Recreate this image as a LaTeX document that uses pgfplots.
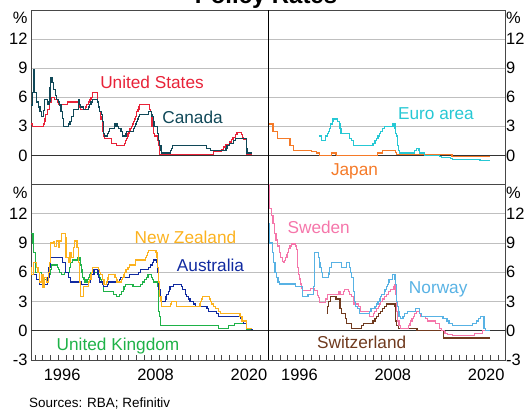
\documentclass[border=0pt]{standalone}
\usepackage{fontspec}
\setmainfont{Liberation Sans}
\usepackage{pgfplots}
\pgfplotsset{compat=1.18}

\definecolor{cUS}{RGB}{232,34,56}
\definecolor{cCA}{RGB}{16,72,88}
\definecolor{cEU}{RGB}{38,200,212}
\definecolor{cJP}{RGB}{245,122,40}
\definecolor{cNZ}{RGB}{252,178,30}
\definecolor{cAU}{RGB}{16,42,160}
\definecolor{cUK}{RGB}{30,178,72}
\definecolor{cSE}{RGB}{245,118,170}
\definecolor{cNO}{RGB}{88,178,228}
\definecolor{cCH}{RGB}{112,58,30}

\pgfplotsset{
  panel/.style={
    scale only axis, width=237.4bp,
    xmin=1992.5, xmax=2023, ymin=-3, ymax=15,
    axis line style={draw=black!72, line width=0.8bp},
    ymajorgrids, grid style={black!25, line width=0.7bp},
    major tick length=0pt,
    tick label style={font=\fontsize{16.5}{16.5}\selectfont},
    /pgf/number format/assume math mode=true,
    extra y ticks={14.15}, extra y tick labels={\%},
    extra y tick style={grid=none, major tick length=0pt},
    ytick style={draw=none},
    clip=true,
  },
  toppanel/.style={panel, height=174.5bp, xtick=\empty,
    ytick={0,3,6,9,12}, yticklabels={0,3,6,9,12}},
  botpanel/.style={panel, height=175.5bp,
    ytick={-3,0,3,6,9,12}, yticklabels={-3,0,3,6,9,12},
    xtick={1993,...,2022}, xticklabels={}, xtick pos=left,
    tick align=inside, major tick length=5bp,
    xtick style={black!72, line width=0.7bp},
    extra x ticks={1996.5,2008.5,2020.5}, extra x tick labels={1996,2008,2020},
    extra x tick style={grid=none, major tick length=0pt, xticklabel style={yshift=-6bp}},
  },
  leftlab/.style={yticklabel pos=left},
  rightlab/.style={yticklabel pos=right, yticklabel style={xshift=-3bp}},
  ser/.style={const plot, line width=1.2bp, mark=none},
}
\newcommand{\zeroline}{\draw[black!80, line width=0.9bp] (axis cs:1992.5,0) -- (axis cs:2023,0);}

\begin{document}
\begin{tikzpicture}
\tikzset{lab/.style={anchor=base, inner sep=0pt, font=\fontsize{17.3}{17.3}\selectfont}}

% ---------------- top left: US, Canada
\begin{axis}[toppanel, leftlab, at={(31bp,225.5bp)}, anchor=south west]
\zeroline
\addplot[ser, cUS] coordinates {
(1992.5,3.25) (1992.7,3.0) (1994.1,3.25) (1994.25,3.5) (1994.3,3.75) (1994.38,4.25) (1994.62,4.75) (1994.87,5.5) (1995.09,6.0) (1995.52,5.75) (1995.96,5.5) (1996.08,5.25) (1997.23,5.5) (1998.74,5.25) (1998.79,5.0) (1998.88,4.75) (1999.5,5.0) (1999.64,5.25) (1999.88,5.5) (2000.09,5.75) (2000.22,6.0) (2000.38,6.5) (2001.01,6.0) (2001.08,5.5) (2001.22,5.0) (2001.3,4.5) (2001.39,4.0) (2001.49,3.75) (2001.64,3.5) (2001.71,3.0) (2001.76,2.5) (2001.84,2.0) (2001.95,1.75) (2002.85,1.25) (2003.49,1.0) (2004.49,1.25) (2004.61,1.5) (2004.72,1.75) (2004.87,2.0) (2004.96,2.25) (2005.09,2.5) (2005.22,2.75) (2005.38,3.0) (2005.49,3.25) (2005.64,3.5) (2005.76,3.75) (2005.92,4.0) (2006.08,4.5) (2006.24,4.75) (2006.38,5.0) (2006.49,5.25) (2007.71,4.75) (2007.83,4.5) (2007.95,4.25) (2008.05,3.0) (2008.22,2.25) (2008.33,2.0) (2008.77,1.5) (2008.83,1.0) (2008.96,0.125) (2015.96,0.375) (2016.96,0.625) (2017.21,0.875) (2017.45,1.125) (2017.96,1.375) (2018.22,1.625) (2018.46,1.875) (2018.74,2.125) (2018.96,2.375) (2019.58,2.125) (2019.71,1.875) (2019.83,1.625) (2020.17,0.125) (2020.9,0.125)
};
\addplot[ser, cCA] coordinates {
(1992.5,5.2) (1992.65,6.5) (1992.8,8.9) (1992.9,7.5) (1993.0,6.5) (1993.2,5.5) (1993.45,5.0) (1993.66,4.5) (1993.9,4.0) (1994.1,4.6) (1994.2,5.8) (1994.45,5.8) (1994.6,5.3) (1994.8,5.6) (1994.95,7.0) (1995.05,8.0) (1995.2,7.5) (1995.4,6.8) (1995.6,6.2) (1995.8,5.8) (1996.0,5.5) (1996.2,5.2) (1996.35,4.5) (1996.5,3.8) (1996.65,3.0) (1997.3,3.25) (1997.5,3.5) (1997.75,4.0) (1997.95,4.75) (1998.6,5.75) (1998.75,5.25) (1998.85,5.0) (1999.2,4.75) (1999.85,5.0) (2000.05,5.25) (2000.2,5.5) (2000.35,5.75) (2001.05,5.5) (2001.2,5.0) (2001.35,4.5) (2001.55,4.25) (2001.65,3.75) (2001.72,3.5) (2001.8,2.75) (2001.85,2.25) (2001.95,2.0) (2002.3,2.25) (2002.45,2.5) (2002.55,2.75) (2003.2,3.0) (2003.3,3.25) (2003.55,3.0) (2003.7,2.75) (2004.05,2.5) (2004.3,2.0) (2004.7,2.25) (2004.8,2.5) (2005.7,2.75) (2005.8,3.0) (2005.95,3.25) (2006.05,3.5) (2006.2,3.75) (2006.3,4.0) (2006.4,4.25) (2007.55,4.5) (2007.95,4.25) (2008.05,4.0) (2008.2,3.5) (2008.3,3.0) (2008.78,2.5) (2008.8,2.25) (2008.93,1.5) (2009.05,1.0) (2009.2,0.5) (2009.3,0.25) (2010.45,0.5) (2010.55,0.75) (2010.7,1.0) (2015.05,0.75) (2015.55,0.5) (2017.55,0.75) (2017.68,1.0) (2018.05,1.25) (2018.55,1.5) (2018.8,1.75) (2020.17,1.25) (2020.2,0.75) (2020.24,0.25) (2020.9,0.25)
};
\end{axis}

% ---------------- top right: Euro area, Japan
\begin{axis}[toppanel, rightlab, at={(268.3bp,225.5bp)}, anchor=south west]
\zeroline
\addplot[ser, cJP] coordinates {
(1992.5,3.25) (1993.1,2.5) (1993.7,1.75) (1995.3,1.0) (1995.7,0.5) (1998.0,0.4) (1998.7,0.25) (1999.1,0.03) (2000.6,0.25) (2001.2,0.15) (2001.3,0.0) (2006.55,0.25) (2007.15,0.5) (2008.8,0.3) (2008.97,0.1) (2016.1,-0.1) (2021.0,-0.1)
};
\addplot[ser, cEU] coordinates {
(1999.0,2.0) (1999.3,1.5) (1999.85,2.0) (2000.1,2.25) (2000.25,2.5) (2000.35,2.75) (2000.45,3.25) (2000.7,3.5) (2000.8,3.75) (2001.4,3.5) (2001.65,3.25) (2001.72,2.75) (2001.85,2.25) (2002.95,1.75) (2003.2,1.5) (2003.45,1.0) (2005.95,1.25) (2006.2,1.5) (2006.45,1.75) (2006.6,2.0) (2006.8,2.25) (2006.95,2.5) (2007.2,2.75) (2007.45,3.0) (2008.52,3.25) (2008.77,2.75) (2008.85,2.25) (2008.95,2.0) (2009.05,1.0) (2009.2,0.5) (2009.35,0.25) (2011.3,0.5) (2011.52,0.75) (2011.85,0.5) (2011.95,0.25) (2012.52,0.0) (2014.45,-0.1) (2014.7,-0.2) (2015.95,-0.3) (2016.2,-0.4) (2019.7,-0.5) (2021.0,-0.5)
};
\end{axis}

% ---------------- bottom left: NZ, Australia, UK
\begin{axis}[botpanel, leftlab, at={(31bp,50bp)}, anchor=south west]
\zeroline
\addplot[ser, cUK] coordinates {
(1992.5,10.0) (1992.75,9.0) (1992.8,8.0) (1993.07,6.0) (1993.9,5.5) (1994.1,5.25) (1994.7,5.75) (1994.95,6.25) (1995.1,6.75) (1995.95,6.5) (1996.05,6.25) (1996.2,6.0) (1996.45,5.75) (1996.8,6.0) (1997.4,6.25) (1997.45,6.5) (1997.55,6.75) (1997.6,7.0) (1997.85,7.25) (1998.45,7.5) (1998.8,7.25) (1998.85,6.75) (1998.95,6.25) (1999.05,6.0) (1999.1,5.5) (1999.3,5.25) (1999.45,5.0) (1999.7,5.25) (1999.85,5.5) (2000.05,5.75) (2000.1,6.0) (2001.1,5.75) (2001.3,5.5) (2001.38,5.25) (2001.6,5.0) (2001.7,4.75) (2001.78,4.5) (2001.85,4.0) (2003.1,3.75) (2003.52,3.5) (2003.85,3.75) (2004.1,4.0) (2004.35,4.25) (2004.45,4.5) (2004.6,4.75) (2005.6,4.5) (2006.6,4.75) (2006.85,5.0) (2007.05,5.25) (2007.35,5.5) (2007.52,5.75) (2007.93,5.5) (2008.1,5.25) (2008.28,5.0) (2008.77,4.5) (2008.85,3.0) (2008.93,2.0) (2009.02,1.5) (2009.1,1.0) (2009.18,0.5) (2016.6,0.25) (2017.85,0.5) (2018.6,0.75) (2020.2,0.25) (2020.22,0.1) (2020.9,0.1)
};
\addplot[ser, cAU] coordinates {
(1992.5,6.5) (1992.55,5.75) (1993.2,5.25) (1993.55,4.75) (1994.6,5.5) (1994.8,6.5) (1994.96,7.5) (1996.55,7.0) (1996.9,6.0) (1997.35,5.5) (1997.55,5.0) (1998.92,4.75) (1999.85,5.0) (2000.1,5.5) (2000.3,5.75) (2000.6,6.25) (2001.1,5.75) (2001.2,5.5) (2001.3,5.0) (2001.7,4.75) (2001.8,4.5) (2002.35,4.75) (2002.45,5.0) (2003.85,5.25) (2003.95,5.5) (2005.2,5.75) (2006.35,6.0) (2006.6,6.25) (2007.6,6.5) (2007.85,6.75) (2008.1,7.0) (2008.2,7.25) (2008.7,7.0) (2008.77,6.0) (2008.85,5.25) (2008.93,4.25) (2009.1,3.25) (2009.25,3.0) (2009.77,3.25) (2009.85,3.5) (2009.93,3.75) (2010.18,4.0) (2010.27,4.25) (2010.35,4.5) (2010.85,4.75) (2011.85,4.5) (2011.93,4.25) (2012.35,3.75) (2012.43,3.5) (2012.77,3.25) (2012.93,3.0) (2013.35,2.75) (2013.6,2.5) (2015.1,2.25) (2015.35,2.0) (2016.35,1.75) (2016.6,1.5) (2019.43,1.25) (2019.52,1.0) (2019.77,0.75) (2020.2,0.25) (2020.85,0.1) (2020.95,0.1)
};
\addplot[ser, cNZ] coordinates {
(1992.5,6.5) (1992.6,5.8) (1992.8,7.0) (1993.2,6.5) (1993.4,6.0) (1993.6,5.0) (1993.8,5.8) (1994.05,4.4) (1994.25,5.5) (1994.45,5.0) (1994.7,6.0) (1994.85,7.0) (1995.0,9.0) (1995.35,9.1) (1995.55,8.6) (1995.8,9.2) (1996.0,8.5) (1996.2,9.2) (1996.4,10.0) (1996.9,9.6) (1997.0,7.5) (1997.3,7.0) (1997.5,8.0) (1997.7,7.5) (1998.0,8.5) (1998.1,9.2) (1998.4,8.5) (1998.6,7.0) (1998.75,5.0) (1998.85,3.5) (1999.2,4.5) (1999.85,5.0) (2000.05,5.25) (2000.2,5.75) (2000.3,6.0) (2000.38,6.5) (2001.2,6.25) (2001.3,6.0) (2001.38,5.75) (2001.72,5.25) (2001.87,4.75) (2002.2,5.0) (2002.3,5.25) (2002.38,5.5) (2002.45,5.75) (2003.3,5.5) (2003.45,5.25) (2003.55,5.0) (2004.1,5.25) (2004.3,5.5) (2004.45,5.75) (2004.55,6.0) (2004.7,6.25) (2004.95,6.5) (2005.2,6.75) (2005.95,7.25) (2007.2,7.5) (2007.3,7.75) (2007.45,8.0) (2007.55,8.25) (2008.55,8.0) (2008.7,7.5) (2008.8,6.5) (2008.93,5.0) (2009.05,3.5) (2009.2,3.0) (2009.3,2.5) (2010.45,2.75) (2010.57,3.0) (2011.2,2.5) (2014.2,2.75) (2014.3,3.0) (2014.45,3.25) (2014.57,3.5) (2015.45,3.25) (2015.57,3.0) (2015.7,2.75) (2015.95,2.5) (2016.2,2.25) (2016.6,2.0) (2016.85,1.75) (2019.35,1.5) (2019.6,1.0) (2020.2,0.25) (2020.9,0.25)
};
\end{axis}

% ---------------- bottom right: Sweden, Norway, Switzerland
\begin{axis}[botpanel, rightlab, at={(268.3bp,50bp)}, anchor=south west]
\zeroline
\addplot[ser, cCH] coordinates {
(2000.0,1.75) (2000.1,2.5) (2000.25,3.0) (2000.45,3.5) (2001.2,3.25) (2001.7,2.75) (2001.72,2.25) (2001.95,1.75) (2002.37,1.25) (2002.55,0.75) (2003.2,0.25) (2004.45,0.5) (2004.7,0.75) (2005.95,1.0) (2006.2,1.25) (2006.45,1.5) (2006.7,1.75) (2006.95,2.0) (2007.2,2.25) (2007.45,2.5) (2007.7,2.75) (2008.77,2.5) (2008.8,2.0) (2008.87,1.0) (2008.95,0.5) (2009.2,0.25) (2011.6,0.0) (2014.96,-0.25) (2015.04,-0.75) (2020.95,-0.75)
};
\addplot[ser, cSE] coordinates {
(1992.5,20) (1992.68,12.5) (1992.9,11.8) (1993.1,11.0) (1993.3,10.0) (1993.5,9.3) (1993.7,8.7) (1993.9,8.0) (1994.1,7.5) (1994.3,7.1) (1994.5,7.0) (1994.6,7.2) (1994.75,7.5) (1994.9,7.8) (1995.0,8.0) (1995.1,8.4) (1995.3,8.7) (1995.5,8.9) (1996.0,8.7) (1996.1,8.3) (1996.2,7.5) (1996.3,6.5) (1996.4,5.8) (1996.5,5.3) (1996.6,4.8) (1996.75,4.3) (1996.9,4.1) (1997.9,4.35) (1998.45,4.1) (1998.8,3.85) (1998.85,3.6) (1998.95,3.4) (1999.05,3.15) (1999.12,2.9) (1999.85,3.25) (2000.1,3.75) (2001.5,4.0) (2001.7,3.75) (2002.2,4.0) (2002.3,4.25) (2002.85,4.0) (2002.95,3.75) (2003.2,3.5) (2003.45,3.0) (2003.5,2.75) (2004.1,2.5) (2004.3,2.0) (2005.45,1.5) (2006.05,1.75) (2006.15,2.0) (2006.45,2.25) (2006.65,2.5) (2006.8,2.75) (2006.95,3.0) (2007.15,3.25) (2007.45,3.5) (2007.7,3.75) (2007.95,4.0) (2008.15,4.25) (2008.55,4.5) (2008.7,4.75) (2008.77,4.25) (2008.82,3.75) (2008.95,2.0) (2009.12,1.0) (2009.3,0.5) (2009.53,0.25) (2010.53,0.5) (2010.7,0.75) (2010.8,1.0) (2010.95,1.25) (2011.12,1.5) (2011.3,1.75) (2011.53,2.0) (2011.95,1.75) (2012.12,1.5) (2012.7,1.25) (2012.95,1.0) (2013.95,0.75) (2014.53,0.25) (2014.8,0.0) (2015.1,-0.1) (2015.2,-0.25) (2015.53,-0.35) (2016.12,-0.5) (2019.02,-0.25) (2020.02,0.0) (2020.95,0.0)
};
\addplot[ser, cNO] coordinates {
(1992.5,11.0) (1992.7,9.0) (1993.05,8.0) (1993.15,7.0) (1993.35,6.0) (1993.55,5.5) (1993.75,5.0) (1993.9,4.8) (1995.95,4.5) (1996.85,3.5) (1997.6,3.75) (1998.3,4.5) (1998.45,8.0) (1998.95,7.5) (1999.05,7.0) (1999.15,6.5) (1999.3,6.0) (1999.45,5.5) (2000.2,5.75) (2000.3,6.0) (2000.4,6.5) (2000.6,7.0) (2001.95,6.5) (2002.5,7.0) (2002.95,6.5) (2003.05,6.0) (2003.2,5.5) (2003.4,5.0) (2003.48,4.0) (2003.62,3.0) (2003.72,2.5) (2003.95,2.25) (2004.2,1.75) (2005.45,2.0) (2005.7,2.25) (2006.2,2.5) (2006.45,2.75) (2006.6,3.0) (2006.85,3.25) (2006.95,3.5) (2007.05,3.75) (2007.4,4.0) (2007.5,4.25) (2007.65,4.5) (2007.82,4.75) (2007.95,5.0) (2008.0,5.25) (2008.45,5.75) (2008.78,5.25) (2008.82,4.75) (2008.95,3.0) (2009.1,2.5) (2009.2,2.0) (2009.3,1.5) (2009.45,1.25) (2009.8,1.5) (2009.95,1.75) (2010.38,2.0) (2011.38,2.25) (2011.95,1.75) (2012.2,1.5) (2014.95,1.25) (2015.47,1.0) (2015.72,0.75) (2016.2,0.5) (2018.72,0.75) (2019.22,1.0) (2019.47,1.25) (2019.72,1.5) (2020.2,1.0) (2020.22,0.25) (2020.38,0.0) (2020.95,0.0)
};
\end{axis}

% divider between left and right panels
\draw[black, line width=0.9bp] (268.3bp,50bp) -- (268.3bp,400bp);

% series labels
\node[lab, text=cUS] at (152bp,321bp) {United States};
\node[lab, text=cCA] at (192.5bp,286.7bp) {Canada};
\node[lab, text=cEU] at (436bp,290.7bp) {Euro area};
\node[lab, text=cJP] at (354.5bp,234.5bp) {Japan};
\node[lab, text=cNZ] at (185.5bp,166.7bp) {New Zealand};
\node[lab, text=cAU] at (210.5bp,138.3bp) {Australia};
\node[lab, text=cUK] at (118bp,59.5bp) {United Kingdom};
\node[lab, text=cSE] at (318.7bp,176bp) {Sweden};
\node[lab, text=cNO] at (438.2bp,116bp) {Norway};
\node[lab, text=cCH] at (361.7bp,61.1bp) {Switzerland};

% title (partly above the page, as in the reference) and source
\node[anchor=base, inner sep=0pt, font=\bfseries\fontsize{24}{24}\selectfont] at (266bp,406bp) {Policy Rates};
\node[anchor=base west, inner sep=0pt, font=\fontsize{13.5}{13.5}\selectfont] at (29bp,2.2bp) {Sources: RBA; Refinitiv};

\pgfresetboundingbox
\useasboundingbox (0,0) rectangle (525bp,410bp);
\end{tikzpicture}
\end{document}
